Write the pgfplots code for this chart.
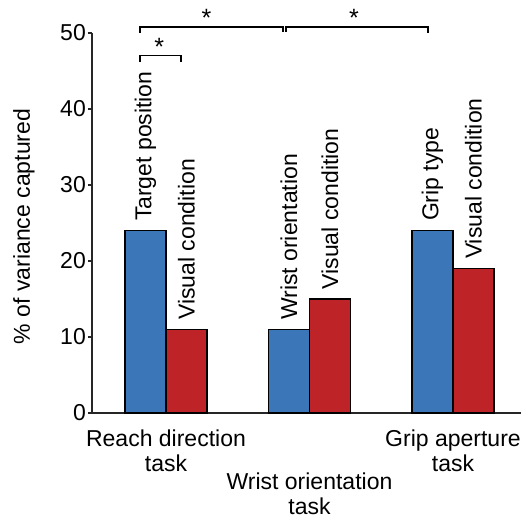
\documentclass[border=0pt]{standalone}
\usepackage{fontspec}
\setmainfont{Liberation Sans}
\usepackage{pgfplots}
\pgfplotsset{compat=1.18}
\definecolor{barblue}{RGB}{58,118,184}
\definecolor{barred}{RGB}{190,35,40}
\begin{document}
\fontsize{23bp}{25bp}\selectfont
\begin{tikzpicture}
\useasboundingbox (0,0) rectangle (521bp,521bp);
\begin{axis}[
  at={(92bp,108bp)}, anchor=south west,
  scale only axis, width=429bp, height=380bp,
  xmin=0.4843, xmax=3.474, ymin=0, ymax=50,
  axis x line*=bottom, axis y line*=left,
  axis line style={-, line width=1.3bp, black!85},
  ytick={0,10,...,50},
  tick align=outside, major tick length=4bp,
  ytick style={line width=1.3bp, black!85},
  /pgf/number format/assume math mode=true,
  yticklabel style={inner sep=0pt, xshift=-2bp},
  xtick={1,3}, xticklabels={{Reach direction\\task},{Grip aperture\\task}},
  xtick style={draw=none},
  xticklabel style={align=center, inner sep=0pt, yshift=-13bp},
  extra x ticks={2}, extra x tick labels={{Wrist orientation\\task}},
  extra x tick style={xticklabel style={yshift=-43bp}},
  ylabel={\% of variance captured},
  every axis y label/.style={at={(axis description cs:-0.1585,0.491)}, rotate=90, anchor=center},
  ybar, bar width=41bp,
  clip=false,
  point meta=explicit symbolic,
  nodes near coords,
  nodes near coords style={rotate=90, anchor=west, inner xsep=9bp, inner ysep=0pt, text=black},
]
\addplot[fill=barblue, draw=black, line width=1.2bp, bar shift=-20.5bp]
  coordinates {(1,24) [Target position] (2,11) [Wrist orientation] (3,24) [Grip type]};
\addplot[fill=barred, draw=black, line width=1.2bp, bar shift=20.5bp]
  coordinates {(1,11) [Visual condition] (2,15) [Visual condition] (3,19) [Visual condition]};
% significance brackets
\draw[line width=1.5bp] (axis cs:0.819,50.0) -- (axis cs:0.819,50.79) -- (axis cs:1.815,50.79) -- (axis cs:1.815,50.1);
\draw[line width=1.5bp] (axis cs:1.836,50.1) -- (axis cs:1.836,50.79) -- (axis cs:2.826,50.79) -- (axis cs:2.826,50.0);
\draw[line width=1.5bp] (axis cs:0.819,46.22) -- (axis cs:0.819,47.01) -- (axis cs:1.1045,47.01) -- (axis cs:1.1045,46.22);
\node[anchor=base, inner sep=0pt, font=\fontsize{25bp}{26bp}\selectfont] at (axis cs:1.283,50.79) {*};
\node[anchor=base, inner sep=0pt, font=\fontsize{25bp}{26bp}\selectfont] at (axis cs:2.310,50.79) {*};
\node[anchor=base, inner sep=0pt, font=\fontsize{25bp}{26bp}\selectfont] at (axis cs:0.953,47.01) {*};
\end{axis}
\end{tikzpicture}
\end{document}
